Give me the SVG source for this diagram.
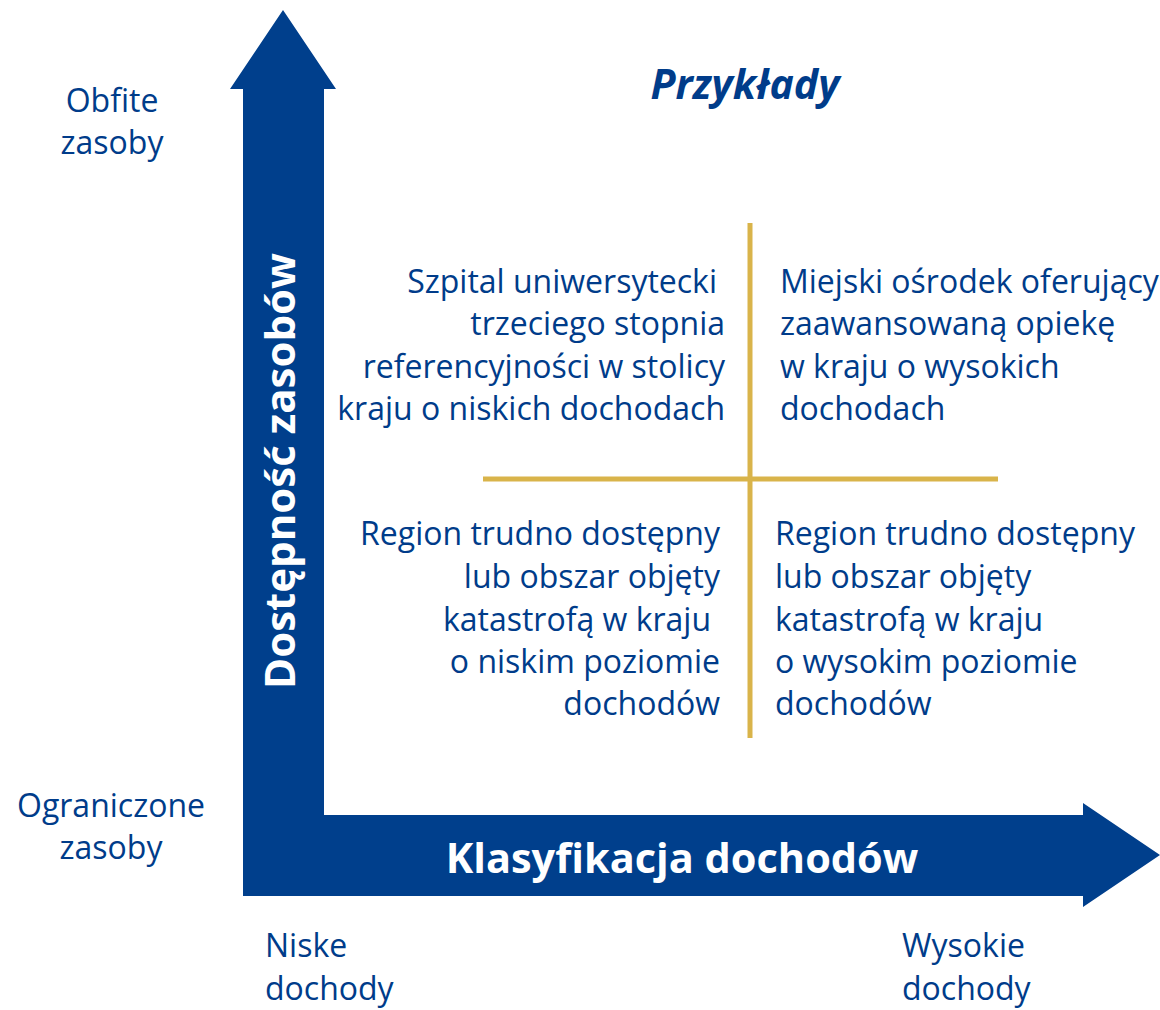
<svg xmlns="http://www.w3.org/2000/svg" width="1160" height="1010" viewBox="0 0 1160 1010">
<style>
.t{font-family:"Open Sans","Noto Sans",sans-serif;font-size:32px;fill:#003C8A}
.r{text-anchor:end}
.w{font-family:"Open Sans","Noto Sans",sans-serif;font-weight:bold;fill:#ffffff}
.g{stroke:#D9B44A;stroke-width:5;fill:none}
.b{fill:#003F8C}
</style>
<rect width="1160" height="1010" fill="#ffffff"/>
<g id="axes">
<polygon class="b" points="283,10 336,89 324,89 324,815 1083,815 1083,803 1160,855 1083,907 1083,896 243,896 243,89 230,89"/>
</g>
<g id="connectors">
<line class="g" x1="750" y1="223" x2="750" y2="738"/>
<line class="g" x1="483" y1="479" x2="998" y2="479"/>
</g>
<g id="y-axis-label"><text class="w" font-size="42" transform="translate(295,471) rotate(-90)" text-anchor="middle">Dostępność zasobów</text></g>
<g id="x-axis-label"><text class="w" font-size="41.5" x="682" y="873" text-anchor="middle">Klasyfikacja dochodów</text></g>
<g id="title"><text class="t" x="745" y="99" text-anchor="middle" style="font-size:41px;font-weight:bold;font-style:italic">Przykłady</text></g>
<g id="label-high-res"><text class="t" text-anchor="middle"><tspan x="112" y="112">Obfite</tspan><tspan x="112" y="154">zasoby</tspan></text></g>
<g id="label-low-res"><text class="t" text-anchor="middle"><tspan x="111" y="817">Ograniczone</tspan><tspan x="111" y="859">zasoby</tspan></text></g>
<g id="label-low-inc"><text class="t"><tspan x="265" y="957">Niske</tspan><tspan x="265" y="1000">dochody</tspan></text></g>
<g id="label-high-inc"><text class="t"><tspan x="902" y="957">Wysokie</tspan><tspan x="902" y="1000">dochody</tspan></text></g>
<g id="q-top-left"><text class="t r"><tspan x="717" y="293">Szpital uniwersytecki</tspan><tspan x="725" y="335">trzeciego stopnia</tspan><tspan x="725" y="378">referencyjności w stolicy</tspan><tspan x="725" y="420">kraju o niskich dochodach</tspan></text></g>
<g id="q-top-right"><text class="t"><tspan x="780" y="293">Miejski ośrodek oferujący</tspan><tspan x="780" y="335">zaawansowaną opiekę</tspan><tspan x="780" y="378">w kraju o wysokich</tspan><tspan x="780" y="420">dochodach</tspan></text></g>
<g id="q-bottom-left"><text class="t r"><tspan x="720" y="545">Region trudno dostępny</tspan><tspan x="720" y="588">lub obszar objęty</tspan><tspan x="711" y="631">katastrofą w kraju</tspan><tspan x="720" y="673">o niskim poziomie</tspan><tspan x="720" y="715">dochodów</tspan></text></g>
<g id="q-bottom-right"><text class="t"><tspan x="775" y="545">Region trudno dostępny</tspan><tspan x="775" y="588">lub obszar objęty</tspan><tspan x="775" y="631">katastrofą w kraju</tspan><tspan x="775" y="673">o wysokim poziomie</tspan><tspan x="775" y="715">dochodów</tspan></text></g>
</svg>
